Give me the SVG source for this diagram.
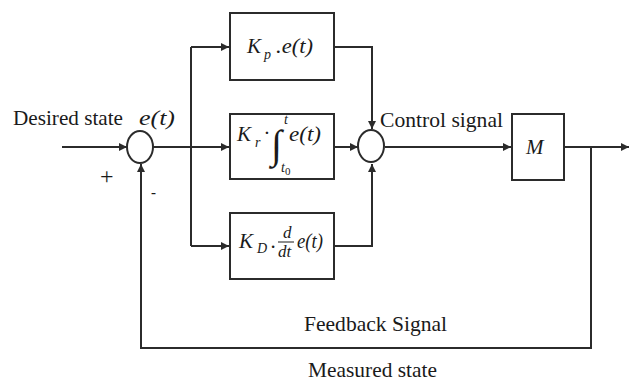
<svg xmlns="http://www.w3.org/2000/svg" width="630" height="381" viewBox="0 0 630 381">
<style>
.ln{fill:none;stroke:#2b2b2b;stroke-width:2}
.bx{fill:#fff;stroke:#2b2b2b;stroke-width:2}
.sj{fill:#fff;stroke:#2b2b2b;stroke-width:2}
.t{font-family:"Liberation Serif","Times New Roman",serif;font-size:21px;fill:#1a1a1a}
.m{font-family:"Liberation Serif","Times New Roman",serif;font-style:italic;font-size:21px;fill:#1a1a1a}
.s{font-family:"Liberation Serif","Times New Roman",serif;font-style:italic;font-size:14px;fill:#1a1a1a}
</style>
<defs>
<marker id="ah" viewBox="0 0 10 10" refX="10" refY="5" markerWidth="4.5" markerHeight="4" orient="auto" markerUnits="strokeWidth">
<path d="M0,0 L10,5 L0,10 z" fill="#2b2b2b"/>
</marker>
</defs>
<rect width="630" height="381" fill="#fff"/>
<g id="connectors">
<path class="ln" d="M62,147 H127" marker-end="url(#ah)"/>
<path class="ln" d="M153,147 H229" marker-end="url(#ah)"/>
<path class="ln" d="M191,47 V246"/>
<path class="ln" d="M191,47 H229" marker-end="url(#ah)"/>
<path class="ln" d="M191,246 H229" marker-end="url(#ah)"/>
<path class="ln" d="M334,47 H372 V129" marker-end="url(#ah)"/>
<path class="ln" d="M334,147 H358" marker-end="url(#ah)"/>
<path class="ln" d="M334,246 H372 V164" marker-end="url(#ah)"/>
<path class="ln" d="M385,147 H511" marker-end="url(#ah)"/>
<path class="ln" d="M564,147 H629" marker-end="url(#ah)"/>
<path class="ln" d="M591,147 V348 H141 V164" marker-end="url(#ah)"/>
</g>
<g id="sum1">
<ellipse class="sj" cx="140" cy="147" rx="13" ry="16"/>
<text class="t" x="100" y="184" style="font-size:24px">+</text>
<text class="t" x="151" y="197" style="font-size:15px;font-weight:bold">-</text>
</g>
<g id="kp">
<rect class="bx" x="230" y="13" width="104" height="67"/>
<text class="m" x="247" y="53">K</text>
<text class="s" x="264" y="59">p</text>
<text class="m" x="276" y="53" textLength="37" lengthAdjust="spacingAndGlyphs">.e(t)</text>
</g>
<g id="ki">
<rect class="bx" x="230" y="114" width="104" height="65"/>
<text class="m" x="237" y="141">K</text>
<text class="s" x="255" y="147">r</text>
<text class="m" x="264" y="140">·</text>
<text class="m" x="271" y="158" style="font-size:40px;font-style:normal">∫</text>
<text class="s" x="284" y="124">t</text>
<text class="s" x="281" y="172">t<tspan dy="3" style="font-size:11px;font-style:normal">0</tspan></text>
<text class="m" x="289" y="141" textLength="32" lengthAdjust="spacingAndGlyphs">e(t)</text>
</g>
<g id="kd">
<rect class="bx" x="230" y="213" width="104" height="66"/>
<text class="m" x="239" y="248">K</text>
<text class="s" x="257" y="253">D</text>
<text class="m" x="271" y="248">.</text>
<text class="m" x="283" y="238" style="font-size:17px">d</text>
<line x1="278" y1="242" x2="294" y2="242" stroke="#1a1a1a" stroke-width="1"/>
<text class="m" x="278" y="257" style="font-size:17px">dt</text>
<text class="m" x="297" y="248" textLength="26" lengthAdjust="spacingAndGlyphs">e(t)</text>
</g>
<g id="sum2">
<ellipse class="sj" cx="371" cy="146" rx="13" ry="16"/>
</g>
<g id="m">
<rect class="bx" x="512" y="114" width="52" height="66"/>
<text class="m" x="526" y="154">M</text>
</g>
<g id="labels">
<text class="t" x="13" y="125" textLength="110" lengthAdjust="spacingAndGlyphs">Desired state</text>
<text class="m" x="139" y="125" textLength="36" lengthAdjust="spacingAndGlyphs">e(t)</text>
<text class="t" x="380" y="127" textLength="123" lengthAdjust="spacingAndGlyphs">Control signal</text>
<text class="t" x="304" y="331" textLength="143" lengthAdjust="spacingAndGlyphs">Feedback Signal</text>
<text class="t" x="308" y="377" textLength="129" lengthAdjust="spacingAndGlyphs">Measured state</text>
</g>
</svg>
